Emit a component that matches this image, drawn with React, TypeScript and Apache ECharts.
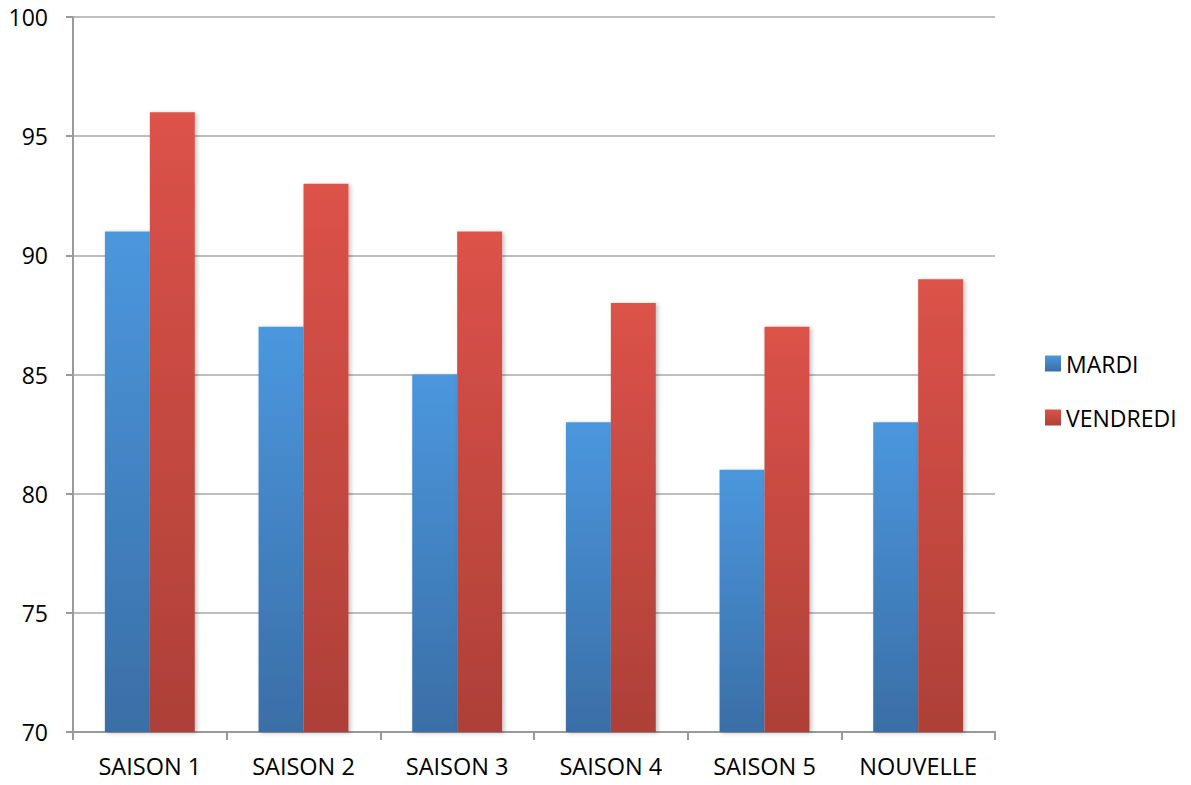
import React, { useEffect, useRef } from "react";
import * as echarts from "echarts";

const categories = ["SAISON 1", "SAISON 2", "SAISON 3", "SAISON 4", "SAISON 5", "NOUVELLE"];
const mardi = [91, 87, 85, 83, 81, 83];
const vendredi = [96, 93, 91, 88, 87, 89];
const seriesNames = ["MARDI", "VENDREDI"];

const FONT = "'Open Sans', 'Liberation Sans', sans-serif";

export default function App() {
  const ref = useRef<HTMLDivElement>(null);
  useEffect(() => {
    if (!ref.current) return;
    const chart = echarts.init(ref.current, undefined, { renderer: "svg" });
    const grad = (top: string, bottom: string) =>
      new echarts.graphic.LinearGradient(0, 0, 0, 1, [
        { offset: 0, color: top },
        { offset: 1, color: bottom },
      ]);
    const blue = grad("#4b97de", "#3a6ea6");
    const red = grad("#dc5249", "#ad4038");
    chart.setOption({
      animation: false,
      backgroundColor: "#ffffff",
      grid: { left: 73, right: 196, top: 17, bottom: 53, containLabel: false },
      legend: {
        orient: "vertical",
        left: 1045,
        top: 352,
        padding: 0,
        itemWidth: 16,
        itemHeight: 16,
        itemGap: 31,
        icon: "rect",
        textStyle: { fontFamily: FONT, fontSize: 23, color: "#000" },
        data: [
          { name: seriesNames[0], itemStyle: { color: grad("#4b97de", "#3a6ea6") } },
          { name: seriesNames[1], itemStyle: { color: grad("#dc5249", "#ad4038") } },
        ],
      },
      xAxis: {
        type: "category",
        data: categories,
        axisLine: { lineStyle: { color: "#9a9a9a", width: 2 } },
        axisTick: { show: true, length: 8, alignWithLabel: false, lineStyle: { color: "#9a9a9a", width: 2 } },
        axisLabel: { fontFamily: FONT, fontSize: 23.5, color: "#000", margin: 22 },
        splitLine: { show: false },
      },
      yAxis: {
        type: "value",
        min: 70,
        max: 100,
        interval: 5,
        axisLine: { show: true, lineStyle: { color: "#9a9a9a", width: 2 } },
        axisTick: { show: true, length: 7, lineStyle: { color: "#9a9a9a", width: 2 } },
        axisLabel: { fontFamily: FONT, fontSize: 23, color: "#000", margin: 25 },
        splitLine: { show: true, lineStyle: { color: "#a8a8a8", width: 1.5 } },
      },
      series: [
        {
          name: seriesNames[0],
          type: "bar",
          data: mardi,
          barGap: "0%",
          barCategoryGap: "41.5%",
          itemStyle: { color: blue, shadowBlur: 4, shadowColor: "rgba(0,0,0,0.25)", shadowOffsetX: 2, shadowOffsetY: 1 },
        },
        {
          name: seriesNames[1],
          type: "bar",
          data: vendredi,
          barGap: "0%",
          barCategoryGap: "41.5%",
          itemStyle: { color: red, shadowBlur: 4, shadowColor: "rgba(0,0,0,0.25)", shadowOffsetX: 2, shadowOffsetY: 1 },
        },
      ],
    });
    return () => chart.dispose();
  }, []);
  return (
    <div
      ref={ref}
      style={{ position: "fixed", left: 0, top: 0, width: 1191, height: 785, background: "#fff" }}
    />
  );
}
